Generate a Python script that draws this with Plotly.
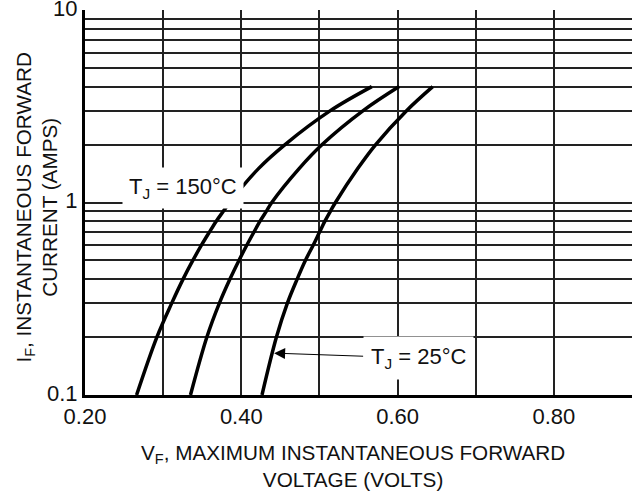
import math
import plotly.graph_objects as go

# Data (forward current in A, forward voltage in V)
i_points = [0.1, 0.2, 0.3, 0.4, 0.5, 0.6, 0.7, 0.8, 0.9, 1.0, 1.5, 2.0, 3.0, 4.0]
v_150 = [0.266, 0.292, 0.311, 0.3255, 0.338, 0.349, 0.359, 0.368, 0.377, 0.385, 0.422, 0.456, 0.514, 0.567]
v_mid = [0.335, 0.356, 0.372, 0.3855, 0.397, 0.407, 0.416, 0.424, 0.432, 0.439, 0.474, 0.5035, 0.556, 0.602]
v_25 = [0.4265, 0.445, 0.459, 0.4715, 0.482, 0.492, 0.500, 0.507, 0.514, 0.5205, 0.549, 0.572, 0.6115, 0.645]

x_tickvals = [0.2, 0.3, 0.4, 0.5, 0.6, 0.7, 0.8, 0.9]
x_ticktext = ["0.20", "", "0.40", "", "0.60", "", "0.80", ""]
y_tickvals = [0.1, 0.2, 0.3, 0.4, 0.5, 0.6, 0.7, 0.8, 0.9,
              1, 2, 3, 4, 5, 6, 7, 8, 9, 10]
y_ticktext = ["0.1"] + [""] * 8 + ["1"] + [""] * 8 + ["10"]

label_150 = "T<sub>J</sub> = 150°C"
label_25 = "T<sub>J</sub> = 25°C"
x_title = "V<sub>F</sub>, MAXIMUM INSTANTANEOUS FORWARD<br>VOLTAGE (VOLTS)"
y_title = "I<sub>F</sub>, INSTANTANEOUS FORWARD<br>CURRENT (AMPS)"

FONT = "Liberation Sans, Arial, Helvetica, sans-serif"

fig = go.Figure()
for v in [v_150, v_mid, v_25]:
    fig.add_trace(go.Scatter(x=v, y=i_points, mode="lines",
                             line=dict(color="black", width=3.5, shape="spline", smoothing=1.0),
                             showlegend=False, hoverinfo="skip"))

fig.update_layout(
    width=634, height=493,
    margin=dict(l=85, r=2, t=10, b=98),
    paper_bgcolor="white", plot_bgcolor="white",
    font=dict(family=FONT, size=21, color="#111"),
    xaxis=dict(range=[0.2, 0.9], tickvals=x_tickvals, ticktext=x_ticktext,
               showgrid=True, gridcolor="#222", gridwidth=1.5,
               showline=True, linecolor="black", linewidth=3,
               zeroline=False, ticks="", tickfont=dict(size=22), automargin=False,
               ticklabeloverflow="allow"),
    yaxis=dict(type="log", range=[-1, 1], tickvals=y_tickvals, ticktext=y_ticktext,
               showgrid=True, gridcolor="#222", gridwidth=1.5,
               showline=True, linecolor="black", linewidth=3,
               zeroline=False, ticks="", tickfont=dict(size=22), automargin=False,
               ticklabeloverflow="allow", ticklabelshift=-2),
)

fig.add_annotation(x=0.325, y=math.log10(1.196), xref="x", yref="y",
                   text=label_150, showarrow=False, bgcolor="white",
                   borderpad=6, font=dict(size=22))
fig.add_annotation(x=0.442, y=math.log10(0.165), xref="x", yref="y",
                   text=label_25, showarrow=True, ax=144, ay=5,
                   arrowhead=2, arrowsize=2.2, arrowwidth=1, arrowcolor="black",
                   bgcolor="white", borderpad=7, font=dict(size=22))

fig.add_annotation(x=0.5, y=0, xref="paper", yref="paper",
                   text=x_title, showarrow=False, xanchor="center", yanchor="middle",
                   xshift=-6, yshift=-71, font=dict(size=20.7))
fig.add_annotation(x=0, y=0.5, xref="paper", yref="paper",
                   text=y_title, showarrow=False, textangle=-90,
                   xanchor="center", yanchor="middle",
                   xshift=-49, yshift=-5, font=dict(size=20.7))

fig.write_html("out.html", config={"displayModeBar": False},
               post_script="document.body.style.margin='0';")
